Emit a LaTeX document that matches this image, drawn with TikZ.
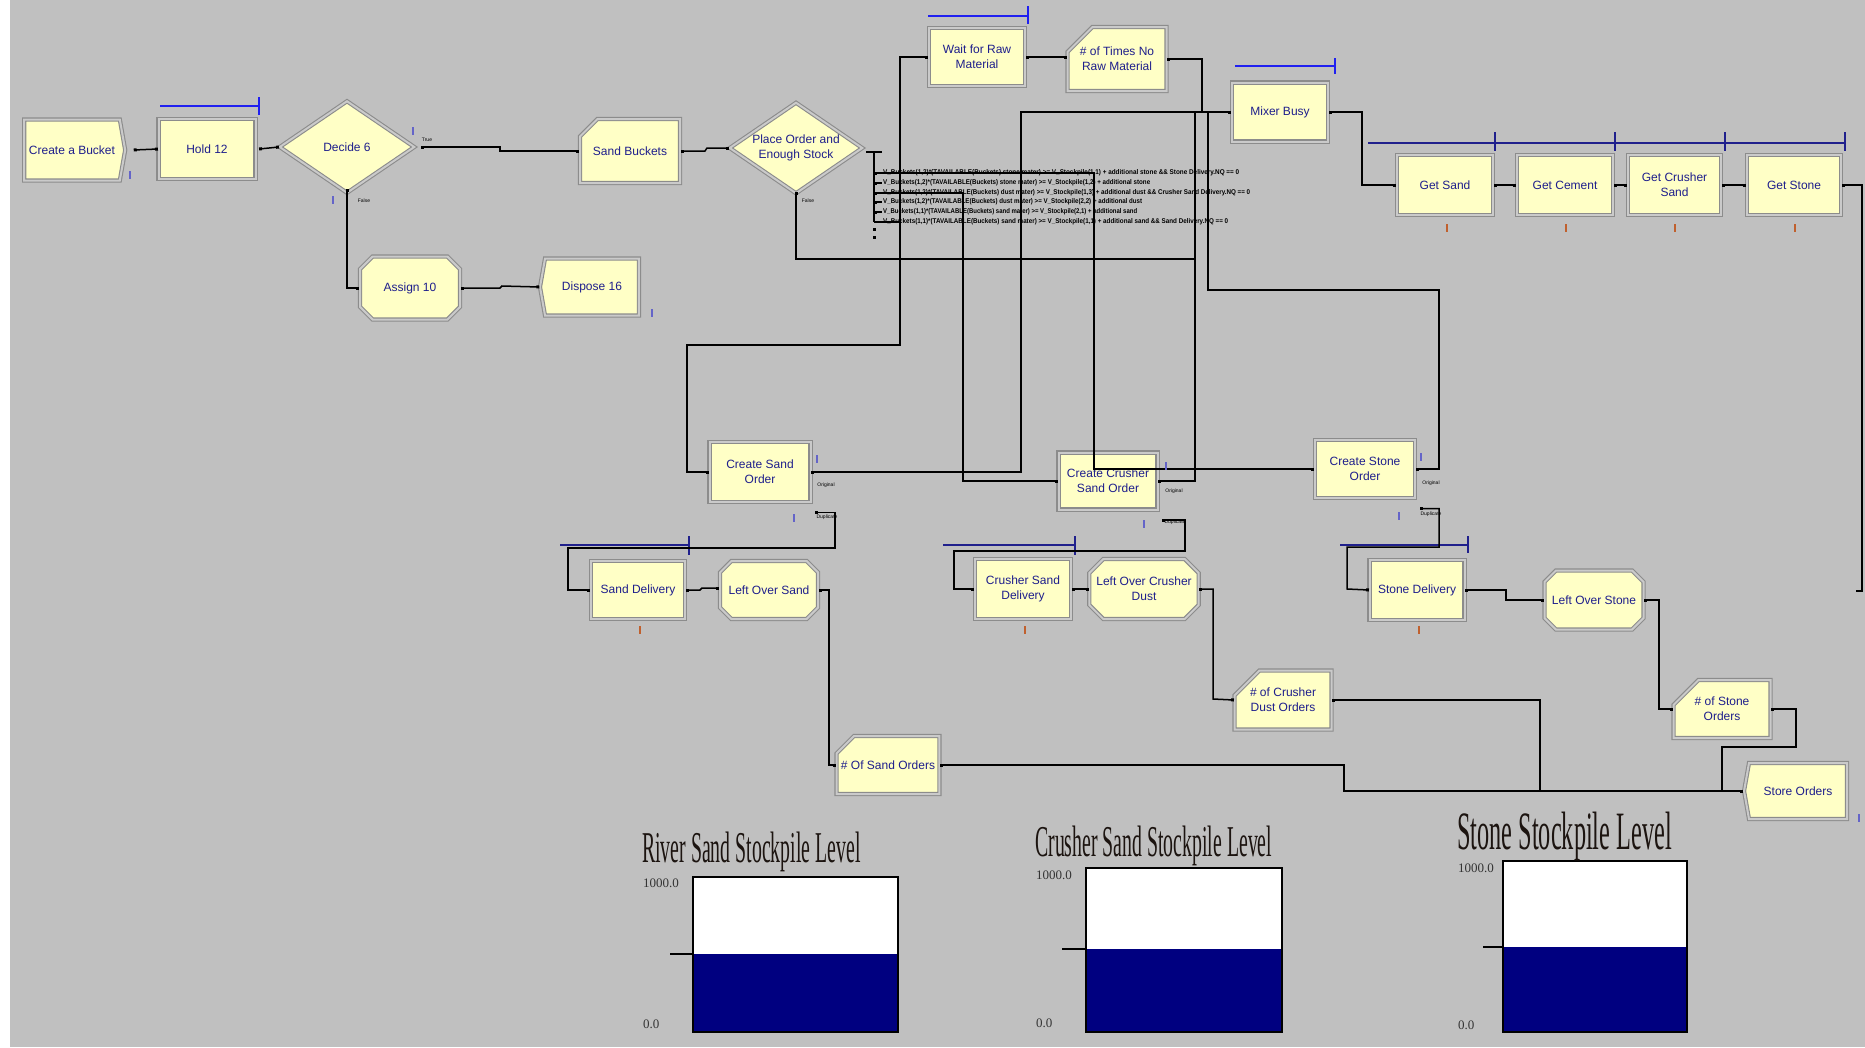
\documentclass[tikz,border=0pt]{standalone}
\usepackage{fontspec}
\setmainfont{Liberation Sans}
\newfontfamily\tnr{Liberation Serif}
\usetikzlibrary{shapes.geometric,shapes.misc,shapes.symbols,arrows.meta}
\definecolor{bg}{HTML}{C0C0C0}
\definecolor{modfill}{HTML}{FFFFC6}
\definecolor{modedge}{HTML}{8C8C8C}
\definecolor{modgap}{HTML}{CACACA}
\definecolor{txt}{HTML}{1E1E8C}
\definecolor{qblue}{HTML}{2020F0}
\definecolor{qnavy}{HTML}{20208C}
\definecolor{ibar}{HTML}{6464C8}
\definecolor{obar}{HTML}{C0602E}
\definecolor{lvl}{HTML}{000080}
\definecolor{titlec}{HTML}{1C1410}
\begin{document}
\begin{tikzpicture}[x=1pt,y=-1pt,
  mod/.style={draw=modedge, line width=1.1pt, double=modgap, double distance=2pt,
    fill=modfill, inner sep=0pt, text=txt, align=center,
    font=\fontsize{12}{15}\selectfont},
  proc/.style={mod, rectangle},
  dec/.style={mod, diamond, aspect=1.45},
  asg/.style={mod, chamfered rectangle, chamfered rectangle xsep=7pt, chamfered rectangle ysep=7pt},
  rec/.style={mod, chamfered rectangle, chamfered rectangle corners=north west,
    chamfered rectangle xsep=13pt, chamfered rectangle ysep=13pt},
  crt/.style={mod, signal, signal to=east, signal pointer angle=160},
  dsp/.style={mod, signal, signal to=west, signal pointer angle=160},
  sz/.style 2 args={minimum width=#1pt, minimum height=#2pt},
  conn/.style={line width=1.5pt, black},
  sqs/.style={arrows={Square[length=3pt,width=3pt]-Square[length=3pt,width=3pt]}},
  sq1/.style={arrows={Square[length=3pt,width=3pt]-}},
  qline/.style={line width=1.6pt, qblue},
  qnline/.style={line width=1.6pt, qnavy},
  ib/.style={line width=1.8pt, ibar},
  ob/.style={line width=1.8pt, obar},
  tiny5/.style={inner sep=0pt, font=\fontsize{5}{5}\selectfont, text=black},
  cond/.style={inner sep=0pt, anchor=west, text=black, font=\bfseries},
  ttl/.style={anchor=base west, inner sep=0pt, text=titlec},
  val/.style={anchor=west, inner sep=0pt, text=black!80, font=\tnr\fontsize{13}{13}\selectfont},
  lvlbox/.style={line width=1.3pt, black}
]
\useasboundingbox (0,0) rectangle (1865,1047);
\fill[white] (0,0) rectangle (1865,1047);
\fill[bg] (10,0) rectangle (1865,1047);

% ---------- modules ----------
\node[crt, sz={101}{61}] (create) at (72,150) {Create a Bucket};
\node[proc, sz={97}{60}] (hold) at (207,149) {Hold 12};
\node[dec, sz={135}{92}] (decide) at (347,147) {Decide 6};
\node[rec, sz={100}{64}] (sandb) at (630,151) {Sand Buckets};
\node[dec, sz={133}{91}] (place) at (796,148) {Place Order and\\Enough Stock};
\node[asg, sz={100}{63}] (assign) at (410,288) {Assign 10};
\node[dsp, sz={99}{57}] (dispose) at (592,287) {Dispose 16};
\node[proc, sz={96}{58}] (wait) at (977,57) {Wait for Raw\\Material};
\node[rec, sz={99}{64}] (times) at (1117,59) {\# of Times No\\Raw Material};
\node[proc, sz={96}{59}] (mixer) at (1280,112) {Mixer Busy};
\node[proc, sz={96}{60}] (getsand) at (1445,185) {Get Sand};
\node[proc, sz={96}{60}] (getcem) at (1565,185) {Get Cement};
\node[proc, sz={93}{60}] (getcrush) at (1674.5,185) {Get Crusher\\Sand};
\node[proc, sz={94}{60}] (getstone) at (1794,185) {Get Stone};
\node[proc, sz={101}{60}] (csand) at (760,472) {Create Sand\\Order};
\node[proc, sz={99}{57}] (ccrush) at (1108,481) {Create Crusher\\Sand Order};
\node[proc, sz={100}{58}] (cstone) at (1365,469) {Create Stone\\Order};
\node[proc, sz={94}{58}] (sdel) at (638,590) {Sand Delivery};
\node[asg, sz={98}{58}] (losand) at (769,590) {Left Over Sand};
\node[proc, sz={96}{60}] (crdel) at (1023,589) {Crusher Sand\\Delivery};
\node[asg, sz={97}{60}] (locrush) at (1144,589) {Left Over Crusher\\Dust};
\node[proc, sz={95}{60}] (stdel) at (1417,590) {Stone Delivery};
\node[asg, sz={99}{59}] (lostone) at (1594,600) {Left Over Stone};
\node[rec, sz={97}{59}] (crorders) at (1283,700) {\# of Crusher\\Dust Orders};
\node[rec, sz={97}{58}] (storders) at (1722,709) {\# of Stone\\Orders};
\node[rec, sz={99}{58}] (sandorders) at (888,765) {\# Of Sand Orders};
\node[dsp, sz={103}{56}] (store) at (1798,791) {Store Orders};

% ---------- queues ----------
\draw[qline] (160,106) -- (259,106); \draw[qline] (259,97) -- (259,115);
\draw[qline] (928,16) -- (1028,16); \draw[qline] (1028,6) -- (1028,24);
\draw[qline] (1235,66) -- (1335,66); \draw[qline] (1335,58) -- (1335,74);
\draw[qnline] (1368,143) -- (1845,143);
\foreach \x in {1495,1615,1725,1845} \draw[qnline] (\x,132) -- (\x,151);
\draw[qnline] (560,545) -- (689,545); \draw[qnline] (689,536) -- (689,555);
\draw[qnline] (943,545) -- (1075,545); \draw[qnline] (1075,536) -- (1075,555);
\draw[qnline] (1340,545) -- (1468,545); \draw[qnline] (1468,536) -- (1468,553);

% ---------- connectors ----------
\draw[conn,sqs] ([xshift=8pt]create.east) -- (hold.west);
\draw[conn,sqs] ([xshift=3pt]hold.east) -- (decide.west);
\draw[conn,sqs] ([xshift=6pt]decide.east) -- (500,147) -- (500,151) -- (sandb.west);
\draw[conn,sqs] ([yshift=5pt]decide.south) |- (assign.west);
\draw[conn,sqs] (assign.east) -- (500,288) -- (502,286) -- (dispose.west);
\draw[conn,sqs] (sandb.east) -- (705,151) -- (707,148) -- (place.west);
% decision branches
\draw[conn] (866,152) -- (882,152);
\draw[conn] (874,152) -- (874,222);
\foreach \y in {183,202,212} \draw[conn,sq1] (874,\y) -- (882,\y);
\fill (872.5,228) rectangle (875.5,231);
\fill (872.5,236) rectangle (875.5,239);
\draw[conn,sqs] (874,173) -| (1094,469) -- (cstone.west);
\draw[conn,sqs] (874,193) -| (963,481) -- (ccrush.west);
\draw[conn] (874,222) -- (900,222);
\draw[conn,sqs] (wait.west) -| (900,345) -| (687,472) -- (csand.west);
\draw[conn,sqs] (csand.east) -| (1021,112) -- (mixer.west);
\draw[conn,sq1] (ccrush.east) -| (1195,112);
\draw[conn,sq1] (cstone.east) -| (1439,290) -| (1208,112);
\draw[conn,sq1] (times.east) -| (1202,112);
\draw[conn,sq1] ([yshift=2pt]place.south) |- (1195,259);
\draw[conn,sqs] (wait.east) -- (times.west |- wait.east);
\draw[conn,sqs] (mixer.east) -- (1362,112) |- (getsand.west);
\draw[conn,sqs] (getsand.east) -- (getcem.west);
\draw[conn,sqs] (getcem.east) -- (getcrush.west);
\draw[conn,sqs] (getcrush.east) -- (getstone.west);
\draw[conn,sq1] (getstone.east) -| (1862,591) -- (1856,591);
% separate duplicates and deliveries
\draw[conn,sqs] ([shift={(4,10)}]csand.south east) -| (835,548) -| (568,590) -- (sdel.west);
\draw[conn,sqs] (sdel.east) -- (700,590) -- (702,588) -- (losand.west |- 0,588);
\draw[conn,sqs] (losand.east) -| (829,765) -- (sandorders.west);
\draw[conn,sqs] (sandorders.east) -| (1344,791) -- (store.west);
\draw[conn,sqs] ([shift={(4,10)}]ccrush.south east) -| (1185,551) -| (954,589) -- (crdel.west);
\draw[conn,sqs] (crdel.east) -- (locrush.west);
\draw[conn,sqs] (locrush.east) -| (1213,699) -- (crorders.west);
\draw[conn,sq1] (crorders.east) -| (1540,791);
\draw[conn,sqs] ([shift={(4,10)}]cstone.south east) -| (1439,547) -| (1347,589) -- (stdel.west);
\draw[conn,sqs] (stdel.east) -- (1506,590) -- (1506,600) -- (lostone.west);
\draw[conn,sqs] (lostone.east) -| (1659,709) -- (storders.west);
\draw[conn,sq1] (storders.east) -| (1796,747) -| (1722,791);

% ---------- condition texts ----------
\node[cond] (c1) at (883,173) {\resizebox{356pt}{5pt}{V\_Buckets(1,2)*(TAVAILABLE(Buckets) stone mater) >= V\_Stockpile(1,1) + additional stone \&\& Stone Delivery.NQ == 0}};
\node[cond] (c2) at (883,183) {\resizebox{267pt}{5pt}{V\_Buckets(1,2)*(TAVAILABLE(Buckets) stone mater) >= V\_Stockpile(1,2) + additional stone}};
\node[cond] (c3) at (883,193) {\resizebox{367pt}{5pt}{V\_Buckets(1,2)*(TAVAILABLE(Buckets) dust mater) >= V\_Stockpile(1,3) + additional dust \&\& Crusher Sand Delivery.NQ == 0}};
\node[cond] (c4) at (883,202) {\resizebox{259pt}{5pt}{V\_Buckets(1,2)*(TAVAILABLE(Buckets) dust mater) >= V\_Stockpile(2,2) + additional dust}};
\node[cond] (c5) at (883,212) {\resizebox{254pt}{5pt}{V\_Buckets(1,1)*(TAVAILABLE(Buckets) sand mater) >= V\_Stockpile(2,1) + additional sand}};
\node[cond] (c6) at (883,222) {\resizebox{345pt}{5pt}{V\_Buckets(1,1)*(TAVAILABLE(Buckets) sand mater) >= V\_Stockpile(1,1) + additional sand \&\& Sand Delivery.NQ == 0}};

% ---------- small labels ----------
\node[tiny5] (lt) at (427,140) {True};
\node[tiny5] (lf) at (364,201) {False};
\node[tiny5] (lf2) at (808,201) {False};
\node[tiny5] (o1) at (826,485) {Original};
\node[tiny5] (d1) at (827,517) {Duplicate};
\node[tiny5] (o2) at (1174,491) {Original};
\node[tiny5] (d2) at (1175,522) {Duplicate};
\node[tiny5] (o3) at (1431,483) {Original};
\node[tiny5] (d3) at (1431,514) {Duplicate};

% ---------- counters ----------
\foreach \x/\y in {130/175, 413/131, 333/200, 652/313, 817/459, 794/518, 1166/466, 1144/524, 1421/457, 1399/516, 1859/818}
  \draw[ib] (\x,\y-4) -- (\x,\y+4);
\foreach \x/\y in {1447/228, 1566/228, 1675/228, 1795/228, 640/630, 1025/630, 1419/630}
  \draw[ob] (\x,\y-4) -- (\x,\y+4);

% ---------- level charts ----------
\fill[white] (693,877) rectangle (898,954);
\fill[lvl] (693,954) rectangle (898,1032);
\draw[lvlbox] (693,877) rectangle (898,1032);
\draw[lvlbox] (670,954) -- (692,954);
\node[ttl, font=\tnr\fontsize{44}{44}\selectfont] (t1) at (642,862) {\scalebox{0.45}[1]{River Sand Stockpile Level}};
\node[val] (v1a) at (643,883) {1000.0};
\node[val] (v1b) at (643,1024) {0.0};

\fill[white] (1086,868) rectangle (1282,949);
\fill[lvl] (1086,949) rectangle (1282,1032);
\draw[lvlbox] (1086,868) rectangle (1282,1032);
\draw[lvlbox] (1062,949) -- (1085,949);
\node[ttl, font=\tnr\fontsize{44}{44}\selectfont] (t2) at (1035,856) {\scalebox{0.45}[1]{Crusher Sand Stockpile Level}};
\node[val] (v2a) at (1036,875) {1000.0};
\node[val] (v2b) at (1036,1023) {0.0};

\fill[white] (1503,861) rectangle (1687,947);
\fill[lvl] (1503,947) rectangle (1687,1032);
\draw[lvlbox] (1503,861) rectangle (1687,1032);
\draw[lvlbox] (1483,947) -- (1502,947);
\node[ttl, font=\tnr\fontsize{54}{54}\selectfont] (t3) at (1457,849) {\scalebox{0.45}[1]{Stone Stockpile Level}};
\node[val] (v3a) at (1458,868) {1000.0};
\node[val] (v3b) at (1458,1025) {0.0};
\end{tikzpicture}
\end{document}
